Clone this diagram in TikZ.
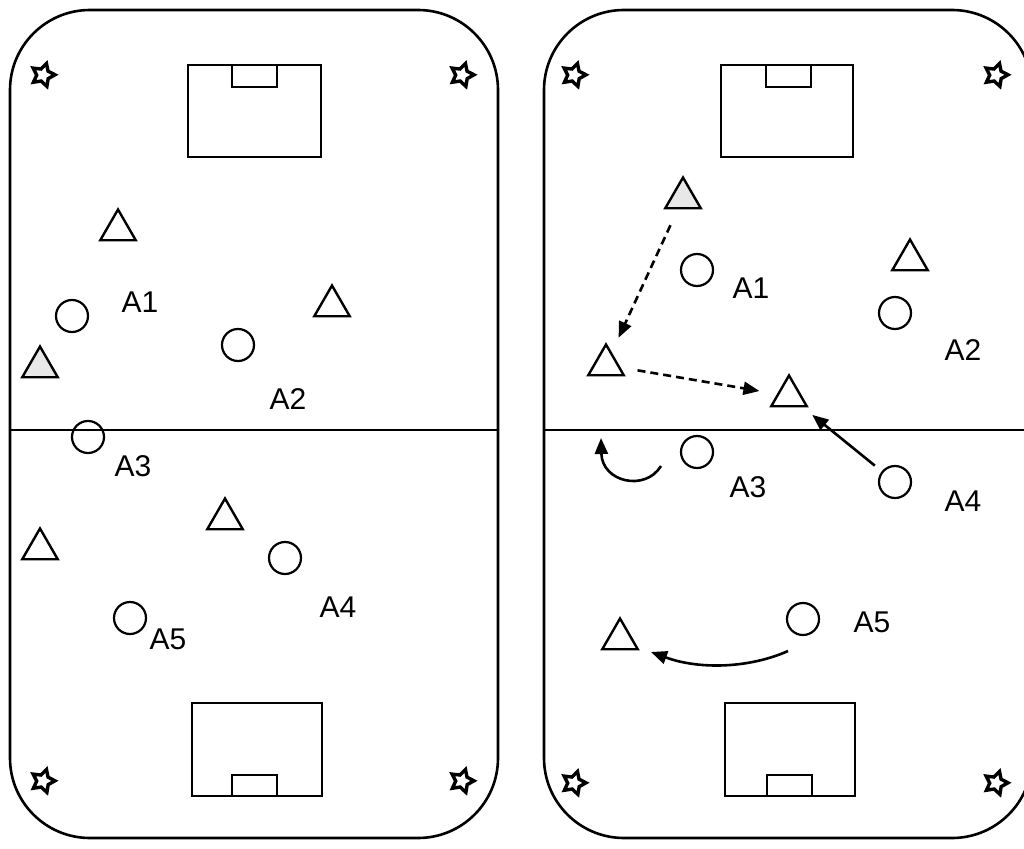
\documentclass[tikz,border=0pt]{standalone}
\usepackage{fontspec}
\setmainfont{Liberation Sans}
\usetikzlibrary{shapes.geometric,arrows.meta}
\begin{document}
\begin{tikzpicture}[x=1pt,y=-1pt,
  field/.style={line width=2.6pt,rounded corners=80pt},
  boxline/.style={line width=2.6pt},
  tri/.style={draw,line width=2.4pt,regular polygon,regular polygon sides=3,minimum size=41pt,inner sep=0pt},
  grey/.style={fill=black!9},
  ply/.style={draw,line width=2.2pt,circle,minimum size=32pt,inner sep=0pt},
  lbl/.style={font=\fontsize{30}{30}\selectfont,inner sep=0pt,anchor=base},
  corner/.style={draw,line width=3.4pt,star,star points=5,star point ratio=1.9,minimum size=24pt,inner sep=0pt,rotate=-17},
  run/.style={line width=2.6pt,-{Triangle[length=16pt,width=13pt]}},
  pass/.style={run,dash pattern=on 8pt off 5pt}
]
\useasboundingbox (0,0) rectangle (1024,848);
\clip (0,0) rectangle (1024,848);
% ---------- left field ----------
\draw[field] (10,10) rectangle (498,838);
\draw[boxline] (10,430) -- (498,430);
\draw[boxline] (188,65) rectangle (321,157);
\draw[boxline] (232,65) rectangle (277,87);
\draw[boxline] (192,703) rectangle (322,796);
\draw[boxline] (232,775) rectangle (277,796);
\node[corner] (sLa) at (43,75) {};
\node[corner] (sLb) at (462,75) {};
\node[corner] (sLc) at (43,781) {};
\node[corner] (sLd) at (462,781) {};
\node[tri] (Lt1) at (118,230) {};
\node[tri] (Lt2) at (332,306) {};
\node[tri,grey] (Lt3) at (40,367) {};
\node[tri] (Lt4) at (225,519) {};
\node[tri] (Lt5) at (40,549) {};
\node[ply] (Lc1) at (72,316) {};
\node[ply] (Lc2) at (238,345) {};
\node[ply] (Lc3) at (88,437) {};
\node[ply] (Lc4) at (285,558) {};
\node[ply] (Lc5) at (130,618) {};
\node[lbl] (La1) at (140,312) {A1};
\node[lbl] (La2) at (288,409) {A2};
\node[lbl] (La3) at (133,476) {A3};
\node[lbl] (La4) at (338,617) {A4};
\node[lbl] (La5) at (168,649) {A5};
% ---------- right field ----------
\draw[field] (544,10) rectangle (1032,838);
\draw[boxline] (544,430) -- (1032,430);
\draw[boxline] (721,65) rectangle (853,157);
\draw[boxline] (766,65) rectangle (811,87);
\draw[boxline] (725,703) rectangle (855,796);
\draw[boxline] (767,775) rectangle (812,796);
\node[corner] (sRa) at (574,75) {};
\node[corner] (sRb) at (996,75) {};
\node[corner] (sRc) at (574,783) {};
\node[corner] (sRd) at (996,783) {};
\node[tri,grey] (Rt1) at (683,198) {};
\node[tri] (Rt2) at (910,260) {};
\node[tri] (Rt3) at (606,365) {};
\node[tri] (Rt4) at (789,396) {};
\node[tri] (Rt5) at (620,639) {};
\node[ply] (Rc1) at (697,270) {};
\node[ply] (Rc2) at (895,313) {};
\node[ply] (Rc3) at (697,452) {};
\node[ply] (Rc4) at (895,482) {};
\node[ply] (Rc5) at (803,619) {};
\node[lbl] (Ra1) at (751,298) {A1};
\node[lbl] (Ra2) at (963,360) {A2};
\node[lbl] (Ra3) at (748,497) {A3};
\node[lbl] (Ra4) at (963,511) {A4};
\node[lbl] (Ra5) at (872,632) {A5};
% ---------- movements ----------
\draw[pass,shorten <=30pt,shorten >=30pt] (Rt1.center) -- (Rt3.center);
\draw[pass,shorten <=32pt,shorten >=30pt] (Rt3.center) -- (Rt4.center);
\draw[run,shorten <=26pt,shorten >=30pt] (Rc4.center) -- (Rt4.center);
\coordinate (turnS) at (661,466);
\coordinate (turnE) at (601,438);
\draw[run] (turnS) .. controls (645,492) and (602,482) .. (turnE);
\coordinate (curS) at (788,651);
\coordinate (curE) at (651,652);
\draw[run] (curS) .. controls (750,668) and (700,670) .. (curE);
\end{tikzpicture}
\end{document}
